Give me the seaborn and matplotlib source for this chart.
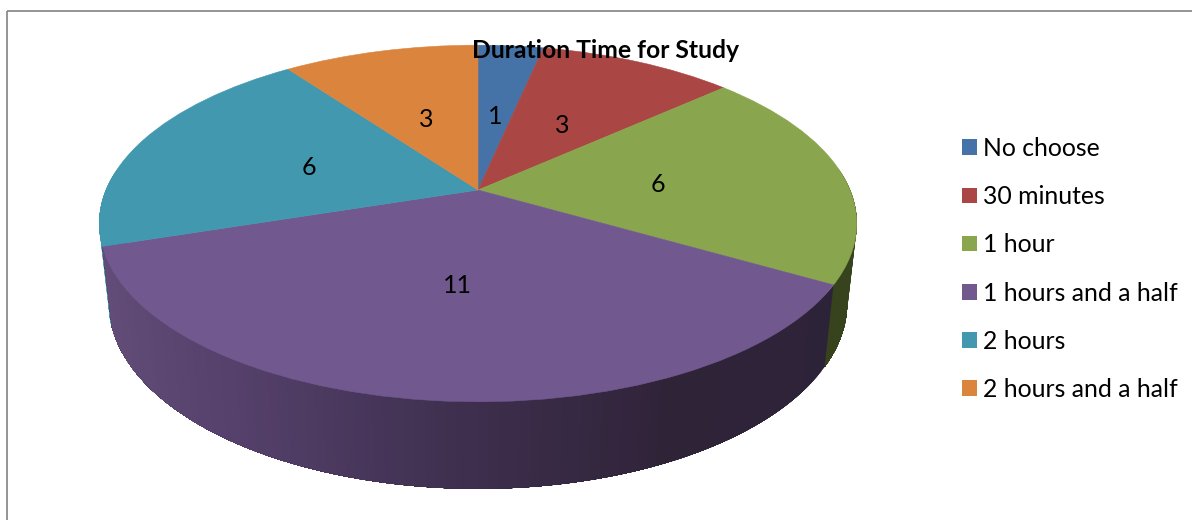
import numpy as np
import matplotlib
matplotlib.use('Agg')
import matplotlib.pyplot as plt
import matplotlib.transforms as mtransforms
import seaborn as sns

# values
durations = ['No choose', '30 minutes', '1 hour', '1 hours and a half', '2 hours', '2 hours and a half']
counts = [1, 3, 6, 11, 6, 3]
slice_colors = ['#4572A7', '#AA4643', '#89A54E', '#71588F', '#4198AF', '#DB843D']
chart_title = 'Duration Time for Study'

sns.set_theme(style='white')
plt.rcParams['font.family'] = ['Lato', 'DejaVu Sans']

# perspective of the tilted pie, in pixels of the picture
CX, CY = 478, 190
RX, RY, TILT = 372, 172, 0.1877
BASE_X, BASE_Y, DEPTH = 0.975, 1.043, 78


def project(u, v):
    w = 1 + TILT * v
    return RX * u / w, RY * v / w


class TiltTransform(mtransforms.Transform):
    input_dims = 2
    output_dims = 2
    is_separable = False
    has_inverse = False

    def transform_non_affine(self, values):
        values = np.asarray(values, dtype=float)
        x, y = project(values[:, 0], values[:, 1])
        return np.column_stack([CX + x, CY - y])


def wall(theta_a, theta_b):
    # side wall between two angles, clockwise from 12 o'clock
    t = np.radians(np.linspace(theta_a, theta_b, 60))
    x, y = project(np.sin(t), np.cos(t))
    xs = np.r_[CX + x, CX + BASE_X * x[::-1]]
    ys = np.r_[CY - y, CY - (BASE_Y * y[::-1] - DEPTH)]
    return xs, ys


fig, ax = plt.subplots(figsize=(11.92, 5.2), dpi=100)
fig.subplots_adjust(left=0, right=1, bottom=0, top=1)

edges = np.cumsum([0] + counts) / sum(counts) * 360

# side walls go under the pie, each band overlaps the next so no seams show
for a in np.linspace(edges[2] + 35, edges[3], 50):
    xs, ys = wall(a, edges[3])
    ax.fill(xs, ys, color='#37431c', lw=0, zorder=1)
for a in np.linspace(edges[4] + 25, edges[4], 30):
    xs, ys = wall(edges[4], a)
    ax.fill(xs, ys, color=slice_colors[4], lw=0, zorder=1)

# purple wall is shaded from left to right
shades = sns.blend_palette(['#2d2338', '#2f2338', '#3f3050', '#54406a', '#654e7b'], 101)
for a in np.linspace(edges[3], edges[4], 100)[:-1]:
    xs, ys = wall(a, edges[4])
    pos = (CX + RX * np.sin(np.radians(a))) / 1192
    shade = shades[int(np.clip(100 * (1 - (pos - 0.09) / 0.6), 0, 100))]
    ax.fill(xs, ys, color=shade, lw=0, zorder=1)

# pie drawn by matplotlib, then tilted
wedges, texts, autotexts = ax.pie(
    counts,
    colors=slice_colors,
    startangle=90,
    counterclock=False,
    autopct=lambda p: f'{p * sum(counts) / 100:.0f}',
    pctdistance=0.49,
    wedgeprops={'linewidth': 0},
    textprops={'fontsize': 18, 'color': 'black'},
)
ax.set_aspect('auto')
ax.set_xlim(0, 1192)
ax.set_ylim(520, 0)

ax.legend(
    wedges, durations,
    loc='upper left', bbox_to_anchor=(952, 127), bbox_transform=ax.transData,
    frameon=False, fontsize=17.8, labelcolor='black',
    handlelength=0.6, handleheight=0.6, handletextpad=0.26,
    labelspacing=1.02, borderpad=0.4, borderaxespad=0,
)

tilt = TiltTransform() + ax.transData
for w in wedges:
    w.set_transform(tilt)
    w.set_edgecolor(w.get_facecolor())
    w.set_linewidth(0.4)
    w.set_zorder(2)
label_tilt = mtransforms.offset_copy(tilt, fig=fig, y=-3, units='dots')
for t in autotexts:
    t.set_transform(label_tilt)
    t.set_zorder(3)

ax.text(606, 50, chart_title, ha='center', va='center', fontsize=17.8, fontweight='bold', color='black', zorder=4)

# chart area border, only top and left show up
ax.plot([7, 7], [520, 11], color='#8c8c8c', lw=1.3, zorder=0, solid_capstyle='butt')
ax.plot([7, 1192], [11, 11], color='#8c8c8c', lw=1.3, zorder=0, solid_capstyle='butt')

fig.savefig('out.png', dpi=100)
